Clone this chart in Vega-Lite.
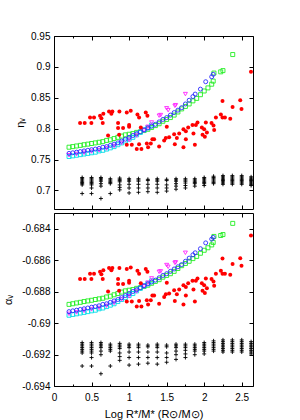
{
"$schema": "https://vega.github.io/schema/vega-lite/v6.json",
"padding": {"left": 2, "top": 30, "right": 5, "bottom": 5},
"config": {
  "font": "Liberation Sans",
  "view": {"stroke": "black", "strokeWidth": 1},
  "axis": {"grid": false, "domain": false, "tickColor": "black", "tickWidth": 1, "labelFont": "Liberation Sans", "labelFontSize": 10, "labelColor": "black", "titleFont": "Liberation Sans", "titleFontSize": 11, "titleFontWeight": "normal", "titleColor": "black", "labelFlush": false, "labelOverlap": false},
  "concat": {"spacing": 2}
},
"data": {"values": [
{"s":"s6","x":0.375,"eta":0.709,"alpha":-0.6919},{"s":"s6","x":0.375,"eta":0.711,"alpha":-0.69178},{"s":"s6","x":0.375,"eta":0.713,"alpha":-0.69167},{"s":"s6","x":0.375,"eta":0.715,"alpha":-0.69156},{"s":"s6","x":0.375,"eta":0.717,"alpha":-0.69145},{"s":"s6","x":0.375,"eta":0.719,"alpha":-0.69134},{"s":"s6","x":0.375,"eta":0.721,"alpha":-0.69124},{"s":"s6","x":0.375,"eta":0.695,"alpha":-0.69273},
{"s":"s6","x":0.5,"eta":0.709,"alpha":-0.6919},{"s":"s6","x":0.5,"eta":0.711,"alpha":-0.69178},{"s":"s6","x":0.5,"eta":0.713,"alpha":-0.69167},{"s":"s6","x":0.5,"eta":0.715,"alpha":-0.69156},{"s":"s6","x":0.5,"eta":0.717,"alpha":-0.69145},{"s":"s6","x":0.5,"eta":0.719,"alpha":-0.69134},{"s":"s6","x":0.5,"eta":0.721,"alpha":-0.69124},{"s":"s6","x":0.5,"eta":0.704,"alpha":-0.69219},{"s":"s6","x":0.5,"eta":0.695,"alpha":-0.69273},
{"s":"s6","x":0.625,"eta":0.715,"alpha":-0.69156},{"s":"s6","x":0.625,"eta":0.717,"alpha":-0.69145},{"s":"s6","x":0.625,"eta":0.719,"alpha":-0.69134},{"s":"s6","x":0.625,"eta":0.721,"alpha":-0.69124},{"s":"s6","x":0.625,"eta":0.711,"alpha":-0.69178},{"s":"s6","x":0.625,"eta":0.707,"alpha":-0.69201},{"s":"s6","x":0.625,"eta":0.687,"alpha":-0.69322},
{"s":"s6","x":0.75,"eta":0.711,"alpha":-0.69178},{"s":"s6","x":0.75,"eta":0.713,"alpha":-0.69167},{"s":"s6","x":0.75,"eta":0.715,"alpha":-0.69156},{"s":"s6","x":0.75,"eta":0.717,"alpha":-0.69145},{"s":"s6","x":0.75,"eta":0.719,"alpha":-0.69134},{"s":"s6","x":0.75,"eta":0.695,"alpha":-0.69273},
{"s":"s6","x":0.875,"eta":0.714,"alpha":-0.69162},{"s":"s6","x":0.875,"eta":0.716,"alpha":-0.69151},{"s":"s6","x":0.875,"eta":0.718,"alpha":-0.6914},{"s":"s6","x":0.875,"eta":0.72,"alpha":-0.69129},{"s":"s6","x":0.875,"eta":0.709,"alpha":-0.6919},{"s":"s6","x":0.875,"eta":0.705,"alpha":-0.69213},{"s":"s6","x":0.875,"eta":0.701,"alpha":-0.69237},
{"s":"s6","x":1.0,"eta":0.715,"alpha":-0.69156},{"s":"s6","x":1.0,"eta":0.717,"alpha":-0.69145},{"s":"s6","x":1.0,"eta":0.719,"alpha":-0.69134},{"s":"s6","x":1.0,"eta":0.71,"alpha":-0.69184},{"s":"s6","x":1.0,"eta":0.704,"alpha":-0.69219},{"s":"s6","x":1.0,"eta":0.696,"alpha":-0.69267},
{"s":"s6","x":1.125,"eta":0.715,"alpha":-0.69156},{"s":"s6","x":1.125,"eta":0.717,"alpha":-0.69145},{"s":"s6","x":1.125,"eta":0.719,"alpha":-0.69134},{"s":"s6","x":1.125,"eta":0.71,"alpha":-0.69184},{"s":"s6","x":1.125,"eta":0.704,"alpha":-0.69219},{"s":"s6","x":1.125,"eta":0.697,"alpha":-0.69261},
{"s":"s6","x":1.25,"eta":0.716,"alpha":-0.69151},{"s":"s6","x":1.25,"eta":0.718,"alpha":-0.6914},{"s":"s6","x":1.25,"eta":0.71,"alpha":-0.69184},{"s":"s6","x":1.25,"eta":0.704,"alpha":-0.69219},{"s":"s6","x":1.25,"eta":0.698,"alpha":-0.69255},
{"s":"s6","x":1.375,"eta":0.715,"alpha":-0.69156},{"s":"s6","x":1.375,"eta":0.717,"alpha":-0.69145},{"s":"s6","x":1.375,"eta":0.719,"alpha":-0.69134},{"s":"s6","x":1.375,"eta":0.71,"alpha":-0.69184},{"s":"s6","x":1.375,"eta":0.704,"alpha":-0.69219},{"s":"s6","x":1.375,"eta":0.697,"alpha":-0.69261},
{"s":"s6","x":1.5,"eta":0.716,"alpha":-0.69151},{"s":"s6","x":1.5,"eta":0.718,"alpha":-0.6914},{"s":"s6","x":1.5,"eta":0.709,"alpha":-0.6919},{"s":"s6","x":1.5,"eta":0.704,"alpha":-0.69219},{"s":"s6","x":1.5,"eta":0.699,"alpha":-0.69249},
{"s":"s6","x":1.625,"eta":0.715,"alpha":-0.69156},{"s":"s6","x":1.625,"eta":0.717,"alpha":-0.69145},{"s":"s6","x":1.625,"eta":0.719,"alpha":-0.69134},{"s":"s6","x":1.625,"eta":0.711,"alpha":-0.69178},{"s":"s6","x":1.625,"eta":0.707,"alpha":-0.69201},{"s":"s6","x":1.625,"eta":0.702,"alpha":-0.69231},
{"s":"s6","x":1.75,"eta":0.715,"alpha":-0.69156},{"s":"s6","x":1.75,"eta":0.717,"alpha":-0.69145},{"s":"s6","x":1.75,"eta":0.719,"alpha":-0.69134},{"s":"s6","x":1.75,"eta":0.712,"alpha":-0.69173},{"s":"s6","x":1.75,"eta":0.708,"alpha":-0.69196},{"s":"s6","x":1.75,"eta":0.704,"alpha":-0.69219},
{"s":"s6","x":1.875,"eta":0.713,"alpha":-0.69167},{"s":"s6","x":1.875,"eta":0.715,"alpha":-0.69156},{"s":"s6","x":1.875,"eta":0.717,"alpha":-0.69145},{"s":"s6","x":1.875,"eta":0.719,"alpha":-0.69134},{"s":"s6","x":1.875,"eta":0.711,"alpha":-0.69178},{"s":"s6","x":1.875,"eta":0.707,"alpha":-0.69201},
{"s":"s6","x":2.0,"eta":0.711,"alpha":-0.69178},{"s":"s6","x":2.0,"eta":0.713,"alpha":-0.69167},{"s":"s6","x":2.0,"eta":0.715,"alpha":-0.69156},{"s":"s6","x":2.0,"eta":0.717,"alpha":-0.69145},{"s":"s6","x":2.0,"eta":0.719,"alpha":-0.69134},{"s":"s6","x":2.0,"eta":0.721,"alpha":-0.69124},{"s":"s6","x":2.0,"eta":0.708,"alpha":-0.69196},
{"s":"s6","x":2.125,"eta":0.711,"alpha":-0.69178},{"s":"s6","x":2.125,"eta":0.713,"alpha":-0.69167},{"s":"s6","x":2.125,"eta":0.715,"alpha":-0.69156},{"s":"s6","x":2.125,"eta":0.717,"alpha":-0.69145},{"s":"s6","x":2.125,"eta":0.719,"alpha":-0.69134},{"s":"s6","x":2.125,"eta":0.721,"alpha":-0.69124},{"s":"s6","x":2.125,"eta":0.723,"alpha":-0.69113},
{"s":"s6","x":2.25,"eta":0.71,"alpha":-0.69184},{"s":"s6","x":2.25,"eta":0.712,"alpha":-0.69173},{"s":"s6","x":2.25,"eta":0.714,"alpha":-0.69162},{"s":"s6","x":2.25,"eta":0.716,"alpha":-0.69151},{"s":"s6","x":2.25,"eta":0.718,"alpha":-0.6914},{"s":"s6","x":2.25,"eta":0.72,"alpha":-0.69129},{"s":"s6","x":2.25,"eta":0.722,"alpha":-0.69118},{"s":"s6","x":2.25,"eta":0.724,"alpha":-0.69107},
{"s":"s6","x":2.375,"eta":0.71,"alpha":-0.69184},{"s":"s6","x":2.375,"eta":0.712,"alpha":-0.69173},{"s":"s6","x":2.375,"eta":0.714,"alpha":-0.69162},{"s":"s6","x":2.375,"eta":0.716,"alpha":-0.69151},{"s":"s6","x":2.375,"eta":0.718,"alpha":-0.6914},{"s":"s6","x":2.375,"eta":0.72,"alpha":-0.69129},{"s":"s6","x":2.375,"eta":0.722,"alpha":-0.69118},{"s":"s6","x":2.375,"eta":0.724,"alpha":-0.69107},
{"s":"s6","x":2.5,"eta":0.71,"alpha":-0.69184},{"s":"s6","x":2.5,"eta":0.712,"alpha":-0.69173},{"s":"s6","x":2.5,"eta":0.714,"alpha":-0.69162},{"s":"s6","x":2.5,"eta":0.716,"alpha":-0.69151},{"s":"s6","x":2.5,"eta":0.718,"alpha":-0.6914},{"s":"s6","x":2.5,"eta":0.72,"alpha":-0.69129},{"s":"s6","x":2.5,"eta":0.722,"alpha":-0.69118},{"s":"s6","x":2.5,"eta":0.724,"alpha":-0.69107},
{"s":"s6","x":2.625,"eta":0.708,"alpha":-0.69196},{"s":"s6","x":2.625,"eta":0.71,"alpha":-0.69184},{"s":"s6","x":2.625,"eta":0.712,"alpha":-0.69173},{"s":"s6","x":2.625,"eta":0.714,"alpha":-0.69162},{"s":"s6","x":2.625,"eta":0.716,"alpha":-0.69151},{"s":"s6","x":2.625,"eta":0.718,"alpha":-0.6914},{"s":"s6","x":2.625,"eta":0.72,"alpha":-0.69129},{"s":"s6","x":2.625,"eta":0.722,"alpha":-0.69118},
{"s":"s2","x":0.2,"eta":0.770,"alpha":-0.68881},{"s":"s2","x":0.25,"eta":0.771,"alpha":-0.68877},{"s":"s2","x":0.3,"eta":0.772,"alpha":-0.68872},{"s":"s2","x":0.35,"eta":0.773,"alpha":-0.68868},{"s":"s2","x":0.4,"eta":0.774,"alpha":-0.68863},{"s":"s2","x":0.45,"eta":0.775,"alpha":-0.68859},{"s":"s2","x":0.5,"eta":0.776,"alpha":-0.68855},{"s":"s2","x":0.55,"eta":0.777,"alpha":-0.6885},{"s":"s2","x":0.6,"eta":0.778,"alpha":-0.68846},{"s":"s2","x":0.65,"eta":0.779,"alpha":-0.68842},{"s":"s2","x":0.7,"eta":0.781,"alpha":-0.68834},{"s":"s2","x":0.75,"eta":0.782,"alpha":-0.68829},{"s":"s2","x":0.8,"eta":0.784,"alpha":-0.6882},{"s":"s2","x":0.85,"eta":0.786,"alpha":-0.68812},{"s":"s2","x":0.9,"eta":0.788,"alpha":-0.68803},{"s":"s2","x":0.95,"eta":0.790,"alpha":-0.68795},{"s":"s2","x":1.0,"eta":0.791,"alpha":-0.68791},{"s":"s2","x":1.05,"eta":0.792,"alpha":-0.68787},{"s":"s2","x":1.1,"eta":0.794,"alpha":-0.68779},{"s":"s2","x":1.15,"eta":0.795,"alpha":-0.68775},{"s":"s2","x":1.2,"eta":0.797,"alpha":-0.68767},{"s":"s2","x":1.25,"eta":0.799,"alpha":-0.68759},{"s":"s2","x":1.3,"eta":0.802,"alpha":-0.68747},{"s":"s2","x":1.35,"eta":0.805,"alpha":-0.68735},{"s":"s2","x":1.4,"eta":0.808,"alpha":-0.68724},{"s":"s2","x":1.45,"eta":0.812,"alpha":-0.68708},{"s":"s2","x":1.5,"eta":0.815,"alpha":-0.68697},{"s":"s2","x":1.55,"eta":0.818,"alpha":-0.68686},{"s":"s2","x":1.6,"eta":0.822,"alpha":-0.68671},{"s":"s2","x":1.65,"eta":0.827,"alpha":-0.68653},{"s":"s2","x":1.7,"eta":0.832,"alpha":-0.68635},{"s":"s2","x":1.75,"eta":0.836,"alpha":-0.68621},{"s":"s2","x":1.8,"eta":0.840,"alpha":-0.68607},{"s":"s2","x":1.85,"eta":0.845,"alpha":-0.6859},{"s":"s2","x":1.9,"eta":0.849,"alpha":-0.68576},{"s":"s2","x":1.95,"eta":0.855,"alpha":-0.68556},{"s":"s2","x":2.0,"eta":0.861,"alpha":-0.68537},{"s":"s2","x":2.05,"eta":0.866,"alpha":-0.68521},{"s":"s2","x":2.1,"eta":0.872,"alpha":-0.68503},{"s":"s2","x":2.12,"eta":0.877,"alpha":-0.68487},{"s":"s2","x":2.13,"eta":0.890,"alpha":-0.68449},{"s":"s2","x":2.22,"eta":0.892,"alpha":-0.68443},{"s":"s2","x":2.25,"eta":0.894,"alpha":-0.68437},{"s":"s2","x":2.38,"eta":0.920,"alpha":-0.68366},
{"s":"s4","x":0.2,"eta":0.755,"alpha":-0.6895},{"s":"s4","x":0.25,"eta":0.756,"alpha":-0.68945},{"s":"s4","x":0.3,"eta":0.757,"alpha":-0.68941},{"s":"s4","x":0.35,"eta":0.758,"alpha":-0.68936},{"s":"s4","x":0.4,"eta":0.759,"alpha":-0.68932},{"s":"s4","x":0.45,"eta":0.760,"alpha":-0.68927},{"s":"s4","x":0.5,"eta":0.761,"alpha":-0.68922},{"s":"s4","x":0.55,"eta":0.762,"alpha":-0.68918},{"s":"s4","x":0.6,"eta":0.764,"alpha":-0.68909},{"s":"s4","x":0.65,"eta":0.765,"alpha":-0.68904},{"s":"s4","x":0.7,"eta":0.767,"alpha":-0.68895},{"s":"s4","x":0.75,"eta":0.769,"alpha":-0.68886},{"s":"s4","x":0.8,"eta":0.771,"alpha":-0.68877},{"s":"s4","x":0.85,"eta":0.774,"alpha":-0.68863},{"s":"s4","x":0.9,"eta":0.777,"alpha":-0.6885},{"s":"s4","x":0.95,"eta":0.780,"alpha":-0.68838},{"s":"s4","x":1.0,"eta":0.783,"alpha":-0.68825},{"s":"s4","x":1.05,"eta":0.786,"alpha":-0.68812},{"s":"s4","x":1.1,"eta":0.790,"alpha":-0.68795},{"s":"s4","x":1.15,"eta":0.794,"alpha":-0.68779},{"s":"s4","x":1.2,"eta":0.798,"alpha":-0.68763},{"s":"s4","x":1.25,"eta":0.802,"alpha":-0.68747},{"s":"s4","x":1.3,"eta":0.806,"alpha":-0.68731},
{"s":"s5","x":0.2,"eta":0.757,"alpha":-0.68941},{"s":"s5","x":0.3,"eta":0.759,"alpha":-0.68932},{"s":"s5","x":0.4,"eta":0.761,"alpha":-0.68922},{"s":"s5","x":0.5,"eta":0.763,"alpha":-0.68913},{"s":"s5","x":0.6,"eta":0.765,"alpha":-0.68904},{"s":"s5","x":0.7,"eta":0.768,"alpha":-0.6889},{"s":"s5","x":0.8,"eta":0.772,"alpha":-0.68872},{"s":"s5","x":0.9,"eta":0.777,"alpha":-0.6885},{"s":"s5","x":1.0,"eta":0.782,"alpha":-0.68829},{"s":"s5","x":1.1,"eta":0.789,"alpha":-0.68799},{"s":"s5","x":1.2,"eta":0.797,"alpha":-0.68767},{"s":"s5","x":1.25,"eta":0.803,"alpha":-0.68743},{"s":"s5","x":1.3,"eta":0.810,"alpha":-0.68716},{"s":"s5","x":1.4,"eta":0.821,"alpha":-0.68674},{"s":"s5","x":1.42,"eta":0.822,"alpha":-0.68671},{"s":"s5","x":1.5,"eta":0.833,"alpha":-0.68631},{"s":"s5","x":1.52,"eta":0.830,"alpha":-0.68642},{"s":"s5","x":1.61,"eta":0.837,"alpha":-0.68617},{"s":"s5","x":1.62,"eta":0.838,"alpha":-0.68614},{"s":"s5","x":1.75,"eta":0.856,"alpha":-0.68553},
{"s":"s3","x":0.2,"eta":0.760,"alpha":-0.68927},{"s":"s3","x":0.25,"eta":0.761,"alpha":-0.68922},{"s":"s3","x":0.3,"eta":0.762,"alpha":-0.68918},{"s":"s3","x":0.35,"eta":0.763,"alpha":-0.68913},{"s":"s3","x":0.4,"eta":0.764,"alpha":-0.68909},{"s":"s3","x":0.45,"eta":0.765,"alpha":-0.68904},{"s":"s3","x":0.5,"eta":0.766,"alpha":-0.68899},{"s":"s3","x":0.55,"eta":0.767,"alpha":-0.68895},{"s":"s3","x":0.6,"eta":0.768,"alpha":-0.6889},{"s":"s3","x":0.65,"eta":0.770,"alpha":-0.68881},{"s":"s3","x":0.7,"eta":0.771,"alpha":-0.68877},{"s":"s3","x":0.75,"eta":0.773,"alpha":-0.68868},{"s":"s3","x":0.8,"eta":0.775,"alpha":-0.68859},{"s":"s3","x":0.85,"eta":0.777,"alpha":-0.6885},{"s":"s3","x":0.9,"eta":0.780,"alpha":-0.68838},{"s":"s3","x":0.95,"eta":0.783,"alpha":-0.68825},{"s":"s3","x":1.0,"eta":0.786,"alpha":-0.68812},{"s":"s3","x":1.05,"eta":0.789,"alpha":-0.68799},{"s":"s3","x":1.1,"eta":0.792,"alpha":-0.68787},{"s":"s3","x":1.15,"eta":0.795,"alpha":-0.68775},{"s":"s3","x":1.2,"eta":0.798,"alpha":-0.68763},{"s":"s3","x":1.25,"eta":0.801,"alpha":-0.68751},{"s":"s3","x":1.3,"eta":0.804,"alpha":-0.68739},{"s":"s3","x":1.35,"eta":0.807,"alpha":-0.68727},{"s":"s3","x":1.4,"eta":0.811,"alpha":-0.68712},{"s":"s3","x":1.45,"eta":0.815,"alpha":-0.68697},{"s":"s3","x":1.5,"eta":0.818,"alpha":-0.68686},{"s":"s3","x":1.55,"eta":0.822,"alpha":-0.68671},{"s":"s3","x":1.6,"eta":0.826,"alpha":-0.68656},{"s":"s3","x":1.65,"eta":0.830,"alpha":-0.68642},{"s":"s3","x":1.7,"eta":0.834,"alpha":-0.68628},{"s":"s3","x":1.75,"eta":0.840,"alpha":-0.68607},{"s":"s3","x":1.8,"eta":0.846,"alpha":-0.68587},{"s":"s3","x":1.85,"eta":0.852,"alpha":-0.68566},{"s":"s3","x":1.88,"eta":0.856,"alpha":-0.68553},{"s":"s3","x":1.95,"eta":0.864,"alpha":-0.68527},{"s":"s3","x":2.02,"eta":0.876,"alpha":-0.6849},{"s":"s3","x":2.1,"eta":0.884,"alpha":-0.68466},{"s":"s3","x":2.12,"eta":0.888,"alpha":-0.68455},
{"s":"s1","x":0.347,"eta":0.809,"alpha":-0.6872},{"s":"s1","x":0.409,"eta":0.809,"alpha":-0.6872},{"s":"s1","x":0.48,"eta":0.818,"alpha":-0.68686},{"s":"s1","x":0.498,"eta":0.809,"alpha":-0.6872},{"s":"s1","x":0.533,"eta":0.818,"alpha":-0.68686},{"s":"s1","x":0.613,"eta":0.821,"alpha":-0.68674},{"s":"s1","x":0.631,"eta":0.817,"alpha":-0.68689},{"s":"s1","x":0.657,"eta":0.824,"alpha":-0.68664},{"s":"s1","x":0.649,"eta":0.809,"alpha":-0.6872},{"s":"s1","x":0.72,"eta":0.789,"alpha":-0.68799},{"s":"s1","x":0.733,"eta":0.828,"alpha":-0.68649},{"s":"s1","x":0.764,"eta":0.824,"alpha":-0.68664},{"s":"s1","x":0.777,"eta":0.828,"alpha":-0.68649},{"s":"s1","x":0.871,"eta":0.828,"alpha":-0.68649},{"s":"s1","x":0.853,"eta":0.809,"alpha":-0.6872},{"s":"s1","x":0.853,"eta":0.801,"alpha":-0.68751},{"s":"s1","x":0.92,"eta":0.801,"alpha":-0.68751},{"s":"s1","x":0.867,"eta":0.79,"alpha":-0.68795},{"s":"s1","x":0.969,"eta":0.774,"alpha":-0.68863},{"s":"s1","x":1.0,"eta":0.803,"alpha":-0.68743},{"s":"s1","x":1.0,"eta":0.806,"alpha":-0.68731},{"s":"s1","x":1.036,"eta":0.774,"alpha":-0.68863},{"s":"s1","x":1.022,"eta":0.829,"alpha":-0.68646},{"s":"s1","x":0.969,"eta":0.826,"alpha":-0.68656},{"s":"s1","x":1.102,"eta":0.767,"alpha":-0.68895},{"s":"s1","x":1.164,"eta":0.767,"alpha":-0.68895},{"s":"s1","x":1.133,"eta":0.775,"alpha":-0.68859},{"s":"s1","x":1.111,"eta":0.823,"alpha":-0.68667},{"s":"s1","x":1.133,"eta":0.818,"alpha":-0.68686},{"s":"s1","x":1.156,"eta":0.802,"alpha":-0.68747},{"s":"s1","x":1.222,"eta":0.826,"alpha":-0.68656},{"s":"s1","x":1.244,"eta":0.821,"alpha":-0.68674},{"s":"s1","x":1.236,"eta":0.776,"alpha":-0.68855},{"s":"s1","x":1.253,"eta":0.77,"alpha":-0.68881},{"s":"s1","x":1.289,"eta":0.776,"alpha":-0.68855},{"s":"s1","x":1.31,"eta":0.783,"alpha":-0.68825},{"s":"s1","x":1.333,"eta":0.783,"alpha":-0.68825},{"s":"s1","x":1.4,"eta":0.771,"alpha":-0.68877},{"s":"s1","x":1.467,"eta":0.781,"alpha":-0.68834},{"s":"s1","x":1.502,"eta":0.803,"alpha":-0.68743},{"s":"s1","x":1.489,"eta":0.785,"alpha":-0.68816},{"s":"s1","x":1.533,"eta":0.786,"alpha":-0.68812},{"s":"s1","x":1.6,"eta":0.791,"alpha":-0.68791},{"s":"s1","x":1.609,"eta":0.775,"alpha":-0.68859},{"s":"s1","x":1.636,"eta":0.785,"alpha":-0.68816},{"s":"s1","x":1.667,"eta":0.792,"alpha":-0.68787},{"s":"s1","x":1.724,"eta":0.799,"alpha":-0.68759},{"s":"s1","x":1.724,"eta":0.77,"alpha":-0.68881},{"s":"s1","x":1.756,"eta":0.796,"alpha":-0.68771},{"s":"s1","x":1.756,"eta":0.783,"alpha":-0.68825},{"s":"s1","x":1.787,"eta":0.802,"alpha":-0.68747},{"s":"s1","x":1.844,"eta":0.806,"alpha":-0.68731},{"s":"s1","x":1.857,"eta":0.792,"alpha":-0.68787},{"s":"s1","x":1.876,"eta":0.774,"alpha":-0.68863},{"s":"s1","x":1.889,"eta":0.806,"alpha":-0.68731},{"s":"s1","x":1.911,"eta":0.81,"alpha":-0.68716},{"s":"s1","x":1.969,"eta":0.802,"alpha":-0.68747},{"s":"s1","x":1.978,"eta":0.79,"alpha":-0.68795},{"s":"s1","x":2.0,"eta":0.799,"alpha":-0.68759},{"s":"s1","x":2.009,"eta":0.787,"alpha":-0.68808},{"s":"s1","x":2.036,"eta":0.794,"alpha":-0.68779},{"s":"s1","x":2.022,"eta":0.81,"alpha":-0.68716},{"s":"s1","x":2.098,"eta":0.809,"alpha":-0.6872},{"s":"s1","x":2.124,"eta":0.805,"alpha":-0.68735},{"s":"s1","x":2.133,"eta":0.798,"alpha":-0.68763},{"s":"s1","x":2.156,"eta":0.818,"alpha":-0.68686},{"s":"s1","x":2.222,"eta":0.823,"alpha":-0.68667},{"s":"s1","x":2.244,"eta":0.818,"alpha":-0.68686},{"s":"s1","x":2.276,"eta":0.818,"alpha":-0.68686},{"s":"s1","x":2.244,"eta":0.845,"alpha":-0.6859},{"s":"s1","x":2.347,"eta":0.816,"alpha":-0.68693},{"s":"s1","x":2.378,"eta":0.835,"alpha":-0.68624},{"s":"s1","x":2.48,"eta":0.846,"alpha":-0.68587},{"s":"s1","x":2.497,"eta":0.832,"alpha":-0.68635},{"s":"s1","x":2.623,"eta":0.892,"alpha":-0.68443}
]},
"vconcat": [
{
  "width": 199, "height": 173,
  "resolve": {"axis": {"x": "independent", "y": "independent"}},
  "layer": [
    {
      "mark": {"type": "point", "opacity": 1, "strokeWidth": 0.9},
      "encoding": {
        "x": {"field": "x", "type": "quantitative", "scale": {"domain": [0, 2.65], "nice": false, "zero": false},
              "axis": {"orient": "bottom", "values": [0,0.25,0.5,0.75,1,1.25,1.5,1.75,2,2.25,2.5], "labels": false, "title": null,
                       "tickSize": {"condition": {"test": "datum.value % 0.5 === 0", "value": -4}, "value": -2}}},
        "y": {"field": "eta", "type": "quantitative", "scale": {"domain": [0.67, 0.95], "nice": false, "zero": false},
              "axis": {"orient": "left", "values": [0.7,0.75,0.8,0.85,0.9,0.95], "labelExpr": "format(datum.value, '~g')", "tickSize": -4, "labelPadding": 8, "title": "ηᵥ", "titlePadding": 5}},
        "shape": {"field": "s", "type": "nominal", "legend": null, "scale": {"domain": ["s1","s2","s3","s4","s5","s6"], "range": ["circle","square","circle","square","triangle-down","M-1,0H1M0,-1V1"]}},
        "stroke": {"field": "s", "type": "nominal", "legend": null, "scale": {"domain": ["s1","s2","s3","s4","s5","s6"], "range": ["transparent","#22ee22","#2a2aff","#00dde8","#ff22ff","#000000"]}},
        "fill": {"field": "s", "type": "nominal", "legend": null, "scale": {"domain": ["s1","s2","s3","s4","s5","s6"], "range": ["#ff0000","transparent","transparent","transparent","transparent","transparent"]}},
        "size": {"field": "s", "type": "nominal", "legend": null, "scale": {"domain": ["s1","s2","s3","s4","s5","s6"], "range": [16, 16, 15, 16, 18, 22]}}
      }
    },
    {
      "mark": {"type": "point", "opacity": 0},
      "encoding": {
        "x": {"field": "x", "type": "quantitative",
              "axis": {"orient": "top", "values": [0,0.25,0.5,0.75,1,1.25,1.5,1.75,2,2.25,2.5], "labels": false, "title": null,
                       "tickSize": {"condition": {"test": "datum.value % 0.5 === 0", "value": -4}, "value": -2}}},
        "y": {"field": "eta", "type": "quantitative",
              "axis": {"orient": "right", "values": [0.7,0.75,0.8,0.85,0.9,0.95], "labels": false, "title": null, "tickSize": -4}}
      }
    }
  ]
},
{
  "width": 199, "height": 173,
  "resolve": {"axis": {"x": "independent", "y": "independent"}},
  "layer": [
    {
      "mark": {"type": "point", "opacity": 1, "strokeWidth": 0.9},
      "encoding": {
        "x": {"field": "x", "type": "quantitative", "scale": {"domain": [0, 2.65], "nice": false, "zero": false},
              "axis": {"orient": "bottom", "values": [0,0.25,0.5,0.75,1,1.25,1.5,1.75,2,2.25,2.5], "labelExpr": "datum.value % 0.5 === 0 ? format(datum.value, '~g') : ''", "labelPadding": 10, "title": "Log R*/M* (R⊙/M⊙)", "titlePadding": 4,
                       "tickSize": {"condition": {"test": "datum.value % 0.5 === 0", "value": -4}, "value": -2}}},
        "y": {"field": "alpha", "type": "quantitative", "scale": {"domain": [-0.694, -0.683], "nice": false, "zero": false},
              "axis": {"orient": "left", "values": [-0.694,-0.692,-0.69,-0.688,-0.686,-0.684], "labelExpr": "replace(format(datum.value, '~g'), '−', '-')", "tickSize": -4, "labelPadding": 8, "title": "αᵥ", "titlePadding": 8}},
        "shape": {"field": "s", "type": "nominal", "legend": null, "scale": {"domain": ["s1","s2","s3","s4","s5","s6"], "range": ["circle","square","circle","square","triangle-down","M-1,0H1M0,-1V1"]}},
        "stroke": {"field": "s", "type": "nominal", "legend": null, "scale": {"domain": ["s1","s2","s3","s4","s5","s6"], "range": ["transparent","#22ee22","#2a2aff","#00dde8","#ff22ff","#000000"]}},
        "fill": {"field": "s", "type": "nominal", "legend": null, "scale": {"domain": ["s1","s2","s3","s4","s5","s6"], "range": ["#ff0000","transparent","transparent","transparent","transparent","transparent"]}},
        "size": {"field": "s", "type": "nominal", "legend": null, "scale": {"domain": ["s1","s2","s3","s4","s5","s6"], "range": [16, 16, 15, 16, 18, 22]}}
      }
    },
    {
      "mark": {"type": "point", "opacity": 0},
      "encoding": {
        "x": {"field": "x", "type": "quantitative",
              "axis": {"orient": "top", "values": [0,0.25,0.5,0.75,1,1.25,1.5,1.75,2,2.25,2.5], "labels": false, "title": null,
                       "tickSize": {"condition": {"test": "datum.value % 0.5 === 0", "value": -4}, "value": -2}}},
        "y": {"field": "alpha", "type": "quantitative",
              "axis": {"orient": "right", "values": [-0.694,-0.692,-0.69,-0.688,-0.686,-0.684], "labels": false, "title": null, "tickSize": -4}}
      }
    }
  ]
}
]
}
